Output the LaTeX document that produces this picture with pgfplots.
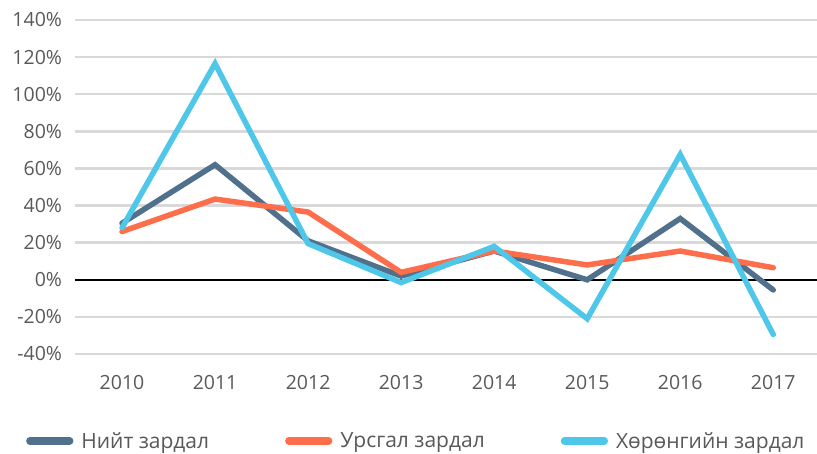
\documentclass[border=0pt]{standalone}
\usepackage{fontspec}
\setmainfont{Open Sans}
\usepackage{pgfplots}
\pgfplotsset{compat=1.18}
\usetikzlibrary{calc}
\definecolor{niit}{RGB}{80,112,140}
\definecolor{ursgal}{RGB}{255,110,74}
\definecolor{khurungu}{RGB}{79,199,232}
\definecolor{gridc}{RGB}{217,217,217}
\definecolor{txt}{RGB}{89,89,89}
\begin{document}
\begin{tikzpicture}
\begin{axis}[
  name=ax, anchor=south west,
  scale only axis, width=741.5pt, height=334pt,
  xmin=-0.5, xmax=7.47, ymin=-40, ymax=140,
  axis line style={draw=none},
  tick style={draw=none},
  xtick={0,...,7},
  xticklabels={2010,2011,2012,2013,2014,2015,2016,2017},
  ytick={-40,-20,...,140},
  yticklabels={-40\%,-20\%,0\%,20\%,40\%,60\%,80\%,100\%,120\%,140\%},
  ymajorgrids, grid style={gridc, line width=2.5pt},
  ticklabel style={font=\fontsize{19.5}{22}\selectfont, text=txt},
  yticklabel style={xshift=-10pt},
  xticklabel style={yshift=-18pt},
  clip=false,
  legend columns=3,
  legend style={at={(-0.0668,-0.26)}, anchor=west, draw=none, fill=none, inner sep=0pt,
    font=\fontsize{21}{24}\selectfont, text=txt,
    /tikz/every odd column/.append style={column sep=6pt},
    /tikz/every even column/.append style={column sep=74pt}},
  legend image code/.code={\draw[#1, line width=7.5pt, line cap=round] (3.75pt,0) -- (43.5pt,0);},
  every axis plot/.append style={line width=5.5pt, line cap=round},
]
\addplot[draw=none, forget plot] coordinates {(0,0)};
\draw[black, line width=2pt] (axis cs:-0.5,0) -- (axis cs:7.47,0);
\addplot[niit] coordinates {
  (0,30.5) (1,62) (2,21) (3,2) (4,15.5) (5,0) (6,33) (7,-5.5)};
\addlegendentry{Нийт зардал}
\addplot[ursgal] coordinates {
  (0,26) (1,43.5) (2,36.5) (3,4) (4,15.5) (5,8) (6,15.5) (7,6.5)};
\addlegendentry{Урсгал зардал}
\addplot[khurungu] coordinates {
  (0,28) (1,116.5) (2,19.5) (3,-1.5) (4,18) (5,-21) (6,67.5) (7,-29.5)};
\addlegendentry{Хөрөнгийн зардал}
\end{axis}
\pgfresetboundingbox
\useasboundingbox ($(ax.south west)+(-75.5pt,-99pt)$) rectangle ++(817pt,453pt);
\end{tikzpicture}
\end{document}
